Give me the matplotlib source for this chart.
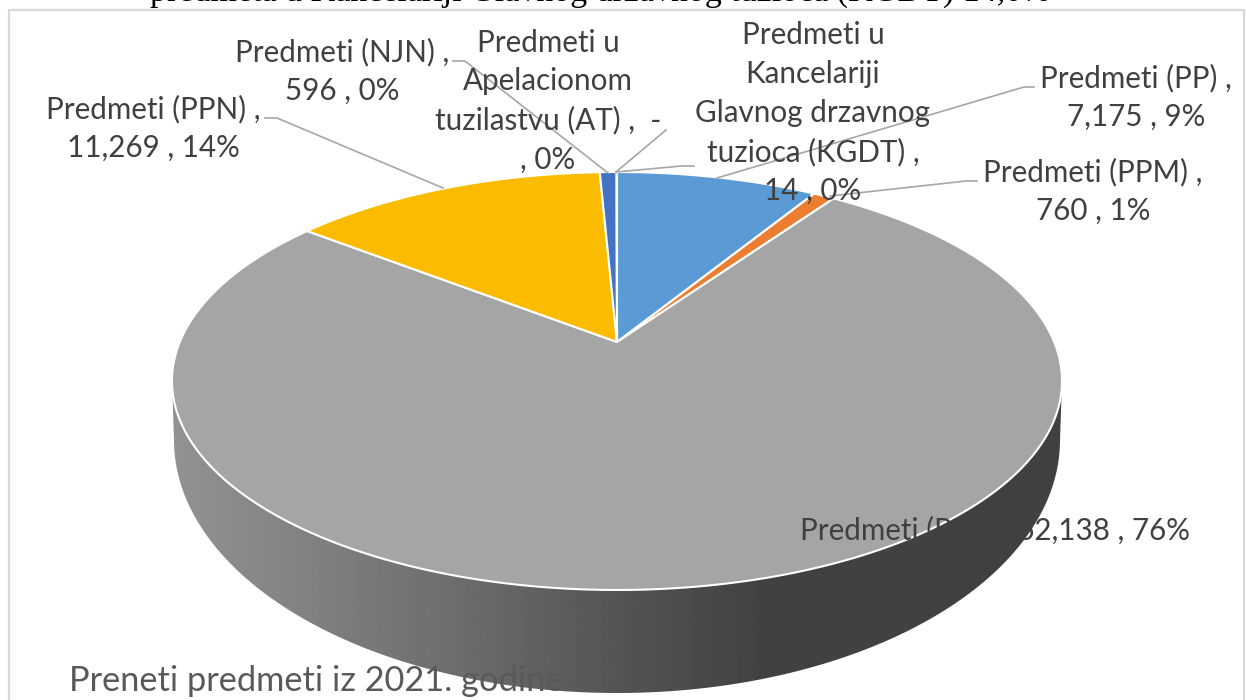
import numpy as np
import matplotlib
matplotlib.use("Agg")
import matplotlib.pyplot as plt
from matplotlib.patches import Polygon

W, H = 1246, 700
names = ["Predmeti (PP)", "Predmeti (PPM)", "Predmeti (PPP)", "Predmeti (PPN)", "Predmeti (NJN)",
         "Predmeti u Apelacionom tuzilastvu (AT)", "Predmeti u Kancelariji Glavnog drzavnog tuzioca (KGDT)"]
values = [7175, 760, 62138, 11269, 596, 0, 14]
colors = ["#5B9BD5", "#ED7D31", "#A5A5A5", "#FBBC00", "#4472C4", "#5B9BD5", "#A5A5A5"]
label_text = ["Predmeti (PP) ,\n7,175 , 9%", "Predmeti (PPM) ,\n760 , 1%", "Predmeti (PPP) , 62,138 , 76%",
              "Predmeti (PPN) ,\n11,269 , 14%", "Predmeti (NJN) ,\n596 , 0%",
              "Predmeti u\nApelacionom\ntuzilastvu (AT) ,  -\n, 0%",
              "Predmeti u\nKancelariji\nGlavnog drzavnog\ntuzioca (KGDT) ,\n14 , 0%"]
title_text = "Preneti predmeti iz 2021. godine"
top_text = "predmeta u Kancelariji Glavnog drzavnog tuzioca (KGDT) 14,0%"

label_pos = [(1136, 97.5), (1093, 191.5), (995, 530), (153, 128.5), (342, 71.5), (548, 101), (813, 113)]
leaders = [[(1034, 87), (1024, 87), (717, 178)], [(977, 181), (966, 181), (830, 196)], None,
           [(265, 118), (277, 118), (443, 188)], [(453, 61), (465, 61), (608, 173)],
           [(666, 130), (616, 172)], [(694, 166), (682, 166), (616, 172)]]

# projection of the disc: apex and perspective
cx, cy = 617.0, 342.0
k = 0.1866
b = 201.7
a = 437.2


def project(t):
    u, v = np.sin(t), np.cos(t)
    d = 1 + k * v
    return cx + a * u / d, cy - b * v / d


fig = plt.figure(figsize=(W / 100, H / 100), dpi=100, facecolor="white")
ax = fig.add_axes([0, 0, 1, 1])
ax.set_xlim(0, W)
ax.set_ylim(H, 0)
ax.axis("off")

# frame
ax.add_patch(plt.Rectangle((8.5, 9.5), 1235.5, 700, fc="white", ec="#D9D9D9", lw=1.6, zorder=1))

# side wall
th = np.linspace(np.pi / 2, 3 * np.pi / 2, 300)
bx = 617 + 443 * np.sin(th)
by = 440 - 253 * np.cos(th)
side = np.column_stack([np.r_[1062, bx, 172], np.r_[381, by, 381]])
grad_x = np.array([172, 300, 450, 620, 760, 1062])
grad_c = np.array([0x92, 0x82, 0x6E, 0x54, 0x42, 0x40])
g = np.interp(np.arange(172, 1063), grad_x, grad_c) / 255
im = ax.imshow(np.tile(g, (2, 1)), cmap="gray", vmin=0, vmax=1, extent=(172, 1062, 700, 300),
               aspect="auto", zorder=2)
clip = Polygon(side, transform=ax.transData, fc="none", ec="none")
ax.add_patch(clip)
im.set_clip_path(clip)
ax.set_xlim(0, W)
ax.set_ylim(H, 0)

# top face
vals = np.array(values, float)
fr = np.r_[0, np.cumsum(vals)] / vals.sum()
for i, c in enumerate(colors):
    if vals[i] == 0:
        continue
    t = np.linspace(fr[i], fr[i + 1], max(3, int(800 * (fr[i + 1] - fr[i])))) * 2 * np.pi
    x, y = project(t)
    ax.fill(np.r_[cx, x], np.r_[cy, y], fc=c, ec="white", lw=1.5, joinstyle="round", zorder=3)

# labels
for txt, (x, y) in zip(label_text, label_pos):
    ax.text(x, y, txt, ha="center", va="center", family="Lato", fontsize=21.3, color="#404040",
            linespacing=1.46, zorder=5)
for pts in leaders:
    if pts:
        p = np.array(pts)
        ax.plot(p[:, 0], p[:, 1], color="#A6A6A6", lw=1.2, zorder=4)

ax.text(316, 681, title_text, ha="center", va="center", family="Lato", fontsize=24.75, color="#595959", zorder=5)
ax.text(600, 1, top_text, ha="center", va="baseline", family="Liberation Serif", fontsize=24.5, color="black", zorder=5)

fig.savefig("out.png", dpi=100)
